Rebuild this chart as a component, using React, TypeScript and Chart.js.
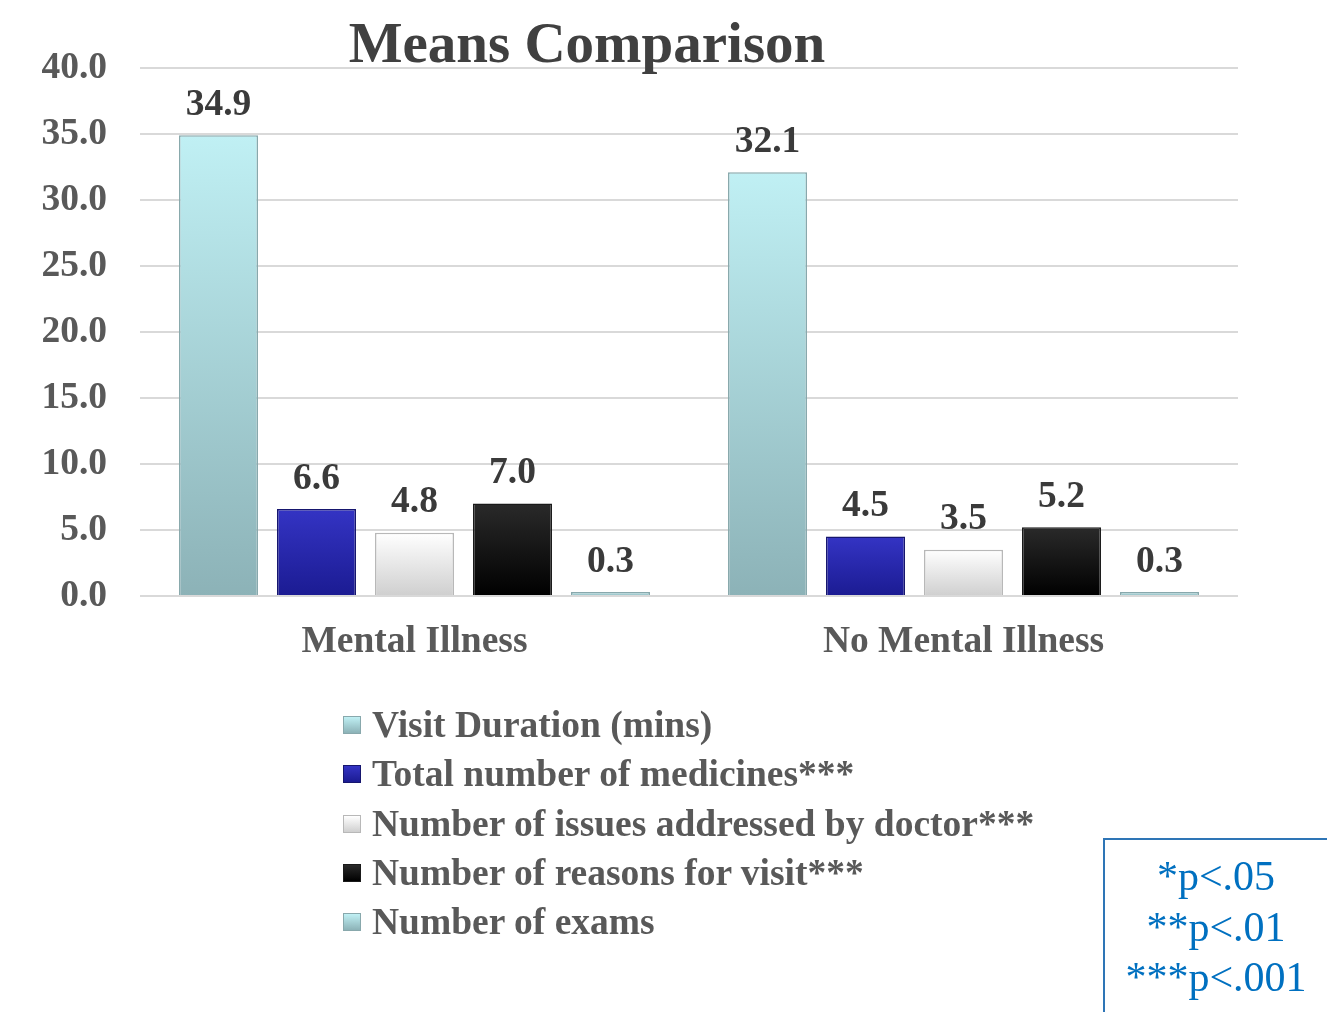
import React, { useEffect, useRef } from "react";
import { Chart, registerables } from "chart.js";

Chart.register(...registerables);

const categories = ["Mental Illness", "No Mental Illness"];
const seriesNames = [
  "Visit Duration (mins)",
  "Total number of medicines***",
  "Number of issues addressed by doctor***",
  "Number of reasons for visit***",
  "Number of exams",
];
const visitDuration = [34.9, 32.1];
const totalMedicines = [6.6, 4.5];
const issuesAddressed = [4.8, 3.5];
const reasonsForVisit = [7.0, 5.2];
const numberOfExams = [0.3, 0.3];
const yMin = 0;
const yMax = 40;
const yStep = 5;
const pValueNotes = ["*p<.05", "**p<.01", "***p<.001"];

const seriesValues = [visitDuration, totalMedicines, issuesAddressed, reasonsForVisit, numberOfExams];
const seriesStyles = [
  { top: "#c0f0f4", bottom: "#8cb2b7", border: "#88a8ac" },
  { top: "#3434c4", bottom: "#1b1b92", border: "#16166e" },
  { top: "#ffffff", bottom: "#cfcfcf", border: "#b8b8b8" },
  { top: "#2a2a2a", bottom: "#000000", border: "#1a1a1a" },
  { top: "#c0f0f4", bottom: "#8cb2b7", border: "#88a8ac" },
];

const SERIF = '"Liberation Serif", "Times New Roman", serif';
const FS = 37.5;

function barFill(top: string, bottom: string) {
  return (ctx: any) => {
    const chart = ctx.chart;
    const y = chart.scales && chart.scales.y;
    if (!y || ctx.type !== "data") return bottom;
    const yTop = y.getPixelForValue(ctx.raw);
    const yBot = y.getPixelForValue(0);
    if (!isFinite(yTop) || !isFinite(yBot) || yTop === yBot) return bottom;
    const g = chart.ctx.createLinearGradient(0, yTop, 0, yBot);
    g.addColorStop(0, top);
    g.addColorStop(1, bottom);
    return g;
  };
}

const valueLabels = {
  id: "valueLabels",
  afterDatasetsDraw(chart: any) {
    const c = chart.ctx;
    c.save();
    c.font = `bold ${FS}px ${SERIF}`;
    c.fillStyle = "#3a3a3a";
    c.textAlign = "center";
    c.textBaseline = "middle";
    chart.data.datasets.forEach((ds: any, i: number) => {
      const meta = chart.getDatasetMeta(i);
      meta.data.forEach((el: any, j: number) => {
        const v = ds.data[j];
        c.fillText(Number(v).toFixed(1), el.x, el.y - 30);
      });
    });
    c.restore();
  },
};

export default function App() {
  const canvasRef = useRef<HTMLCanvasElement | null>(null);

  useEffect(() => {
    document.body.style.margin = "0";
    const canvas = canvasRef.current;
    if (!canvas) return;
    const chart = new Chart(canvas, {
      type: "bar",
      data: {
        labels: categories,
        datasets: seriesNames.map((name, i) => ({
          label: name,
          data: seriesValues[i],
          backgroundColor: barFill(seriesStyles[i].top, seriesStyles[i].bottom),
          borderColor: seriesStyles[i].border,
          borderWidth: 1.5,
          categoryPercentage: 0.8925,
          barPercentage: 0.806,
        })),
      },
      options: {
        responsive: false,
        animation: false,
        layout: { padding: { left: 0, right: 89, top: 68, bottom: 0 } },
        plugins: {
          legend: { display: false },
          title: { display: false },
          tooltip: { enabled: false },
        },
        scales: {
          x: {
            grid: { display: false },
            border: { display: false },
            ticks: {
              color: "#595959",
              font: { family: SERIF, size: FS, weight: "bold" },
              padding: 16,
            },
            afterFit: (scale: any) => {
              scale.height = 416;
            },
          },
          y: {
            min: yMin,
            max: yMax,
            grid: { color: "#d9d9d9", lineWidth: 2, drawTicks: false },
            border: { display: false },
            ticks: {
              stepSize: yStep,
              color: "#595959",
              font: { family: SERIF, size: FS, weight: "bold" },
              padding: 33,
              callback: (v: any) => Number(v).toFixed(1),
            },
            afterFit: (scale: any) => {
              scale.width = 140;
            },
          },
        },
      },
      plugins: [valueLabels],
    });
    return () => chart.destroy();
  }, []);

  const legendTops = [725, 774, 824, 873, 922];

  return (
    <div style={{ position: "relative", width: 1327, height: 1012, overflow: "hidden", background: "#fff" }}>
      <canvas ref={canvasRef} width={1327} height={1012} style={{ position: "absolute", left: 0, top: 0 }} />
      <div
        style={{
          position: "absolute",
          left: 287,
          width: 600,
          top: 44 - 34,
          height: 68,
          lineHeight: "68px",
          textAlign: "center",
          font: `bold 57px ${SERIF}`,
          color: "#404040",
          whiteSpace: "nowrap",
        }}
      >
        Means Comparison
      </div>
      {seriesNames.map((name, i) => (
        <div
          key={name}
          style={{
            position: "absolute",
            left: 343,
            top: legendTops[i] - 22,
            height: 44,
            display: "flex",
            alignItems: "center",
            whiteSpace: "nowrap",
          }}
        >
          <span
            style={{
              display: "inline-block",
              width: 18,
              height: 18,
              boxSizing: "border-box",
              border: `1px solid ${seriesStyles[i].border}`,
              background: `linear-gradient(${seriesStyles[i].top}, ${seriesStyles[i].bottom})`,
              marginRight: 11,
            }}
          />
          <span style={{ font: `bold ${FS}px ${SERIF}`, color: "#595959", lineHeight: "44px" }}>{name}</span>
        </div>
      ))}
      <div
        style={{
          position: "absolute",
          left: 1103,
          top: 838,
          width: 240,
          height: 200,
          boxSizing: "border-box",
          borderLeft: "2px solid #2e75b6",
          borderTop: "2px solid #2e75b6",
        }}
      >
        {pValueNotes.map((t, i) => (
          <div
            key={t}
            style={{
              position: "absolute",
              left: 0,
              width: 222,
              top: 876 - 838 - 26 + i * 50.5,
              height: 50,
              lineHeight: "50px",
              textAlign: "center",
              font: `42px ${SERIF}`,
              color: "#0070c0",
              whiteSpace: "nowrap",
            }}
          >
            {t}
          </div>
        ))}
      </div>
    </div>
  );
}
